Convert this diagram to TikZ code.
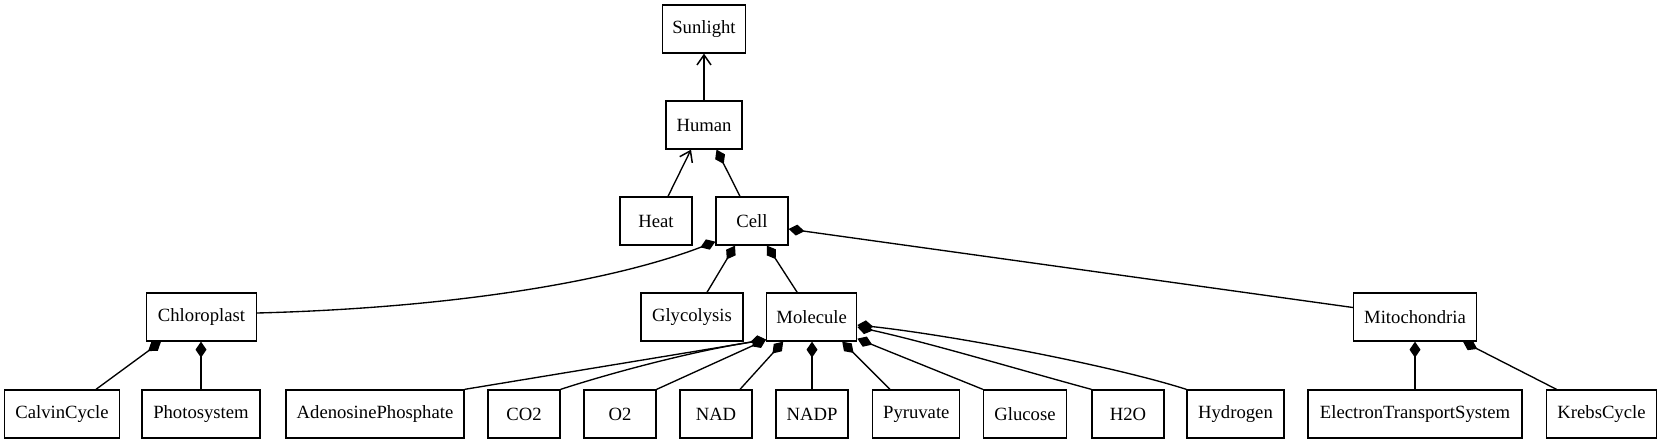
\documentclass[tikz,border=0pt]{standalone}
\usepackage{fontspec}
\setmainfont{Liberation Serif}
\newfontfamily\diagfont{Liberation Serif}
\usetikzlibrary{arrows.meta}
\begin{document}
\begin{tikzpicture}[x=1pt,y=-1pt,
  box/.style={draw, line width=1.3pt, inner sep=0pt, minimum height=48pt, font=\diagfont\fontsize{18.67}{22}\selectfont},
  link/.style={line width=1.35pt},
  comp/.style={link, -{Diamond[length=16pt,width=11pt]}},
  dep/.style={link, -{Straight Barb[length=10pt,width=14pt,line width=1.5pt]}}]
\useasboundingbox (0,0) rectangle (1662,443);
% row 1-3
\node[box, minimum width=83pt] (Sunlight) at (704,29) {Sunlight};
\node[box, minimum width=76pt] (Human) at (704,125) {Human};
\node[box, minimum width=72pt] (Heat) at (656,221) {Heat};
\node[box, minimum width=72pt] (Cell) at (752,221) {Cell};
% row 4
\node[box, minimum width=110pt] (Chloroplast) at (201.5,317) {Chloroplast};
\node[box, minimum width=102pt] (Glycolysis) at (692,317) {Glycolysis};
\node[box, minimum width=90pt] (Molecule) at (811.7,317) {Molecule};
\node[box, minimum width=123pt] (Mitochondria) at (1415,317) {Mitochondria};
% row 5
\node[box, minimum width=115pt] (CalvinCycle) at (62,414) {CalvinCycle};
\node[box, minimum width=118pt] (Photosystem) at (201,414) {Photosystem};
\node[box, minimum width=178pt] (AdenosinePhosphate) at (375,414) {AdenosinePhosphate};
\node[box, minimum width=72pt] (CO2) at (524,414) {CO2};
\node[box, minimum width=72pt] (O2) at (620,414) {O2};
\node[box, minimum width=72pt] (NAD) at (716,414) {NAD};
\node[box, minimum width=72pt] (NADP) at (812,414) {NADP};
\node[box, minimum width=87pt] (Pyruvate) at (916.3,414) {Pyruvate};
\node[box, minimum width=83pt] (Glucose) at (1025,414) {Glucose};
\node[box, minimum width=72pt] (H2O) at (1128,414) {H2O};
\node[box, minimum width=97pt] (Hydrogen) at (1235.5,414) {Hydrogen};
\node[box, minimum width=214pt] (ETS) at (1415,414) {ElectronTransportSystem};
\node[box, minimum width=110pt] (KrebsCycle) at (1601.5,414) {KrebsCycle};
% connectors
\draw[dep] (Human.north) -- (Human.north |- Sunlight.south);
\draw[dep] ([xshift=12pt]Heat.north) -- ([xshift=-13pt]Human.south);
\draw[comp] ([xshift=-12pt]Cell.north) -- ([xshift=12.5pt]Human.south);
\draw[comp] ([yshift=4pt]Chloroplast.east) .. controls (450,308) and (610,282) .. ([yshift=4pt]Cell.south west);
\draw[comp] ([xshift=15pt]Glycolysis.north) -- ([xshift=-17pt]Cell.south);
\draw[comp] ([xshift=-14.5pt]Molecule.north) -- ([xshift=15pt]Cell.south);
\draw[comp] ([yshift=9.5pt]Mitochondria.west) -- ([yshift=-8pt]Cell.east);
\draw[comp] ([xshift=34pt]CalvinCycle.north) -- ([xshift=-40.5pt]Chloroplast.south);
\draw[comp] (Photosystem.north) -- (Photosystem.north |- Chloroplast.south);
\draw[comp] (AdenosinePhosphate.north east) -- ([yshift=2pt]Molecule.south west);
\draw[comp] (CO2.north east) .. controls (620,370) and (700,350) .. ([yshift=2pt]Molecule.south west);
\draw[comp] (O2.north east) -- ([yshift=2pt]Molecule.south west);
\draw[comp] ([xshift=24pt]NAD.north) -- ([xshift=-28.5pt]Molecule.south);
\draw[comp] (NADP.north) -- (NADP.north |- Molecule.south);
\draw[comp] ([xshift=-26.3pt]Pyruvate.north) -- ([xshift=30.5pt]Molecule.south);
\draw[comp] (Glucose.north west) -- ([yshift=3pt]Molecule.south east);
\draw[comp] (H2O.north west) .. controls (1020,370) and (930,343) .. ([yshift=-10pt]Molecule.east);
\draw[comp] (Hydrogen.north west) .. controls (1110,365) and (950,335) .. ([yshift=-8pt]Molecule.east);
\draw[comp] (ETS.north) -- (ETS.north |- Mitochondria.south);
\draw[comp] ([xshift=-45pt]KrebsCycle.north) -- ([xshift=48pt]Mitochondria.south);
\end{tikzpicture}
\end{document}
